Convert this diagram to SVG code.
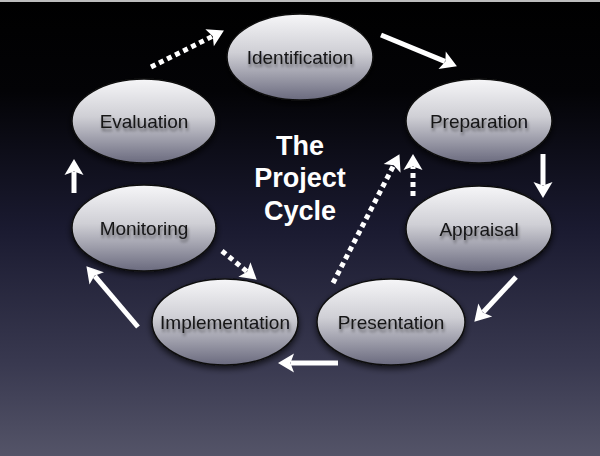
<svg xmlns="http://www.w3.org/2000/svg" width="600" height="456" viewBox="0 0 600 456">
  <defs>
    <linearGradient id="bg" x1="0" y1="0" x2="0" y2="1">
      <stop offset="0" stop-color="#000000"/>
      <stop offset="0.2" stop-color="#030306"/>
      <stop offset="0.5" stop-color="#1a1a30"/>
      <stop offset="0.8" stop-color="#393950"/>
      <stop offset="1" stop-color="#545468"/>
    </linearGradient>
    <linearGradient id="node" x1="0" y1="0" x2="0" y2="1">
      <stop offset="0" stop-color="#f6f6f8"/>
      <stop offset="0.45" stop-color="#cfcfd5"/>
      <stop offset="1" stop-color="#6a6a7e"/>
    </linearGradient>
    <filter id="sh" x="-20%" y="-20%" width="140%" height="150%">
      <feDropShadow dx="0" dy="3" stdDeviation="3" flood-color="#000" flood-opacity="0.7"/>
    </filter>
    <filter id="tsh" x="-10%" y="-30%" width="120%" height="170%">
      <feDropShadow dx="1" dy="3" stdDeviation="1.5" flood-color="#000" flood-opacity="0.45"/>
    </filter>
    <marker id="ah" markerUnits="userSpaceOnUse" markerWidth="20" markerHeight="20" refX="3" refY="10" orient="auto" overflow="visible">
      <path d="M0,0.5 L16,10 L0,19.5 L3.5,10 Z" fill="#ffffff"/>
    </marker>
    <style>
      .n ellipse { fill: url(#node); stroke: #111; stroke-width: 1.5; filter: url(#sh); }
      .n text { font-family: "Liberation Sans", Arial, sans-serif; font-size: 19px; fill: #141416; text-anchor: middle; filter: url(#tsh); }
      .a { stroke: #fff; stroke-width: 5; fill: none; marker-end: url(#ah); }
      .d { stroke-dasharray: 5 4; }
      .t { font-family: "Liberation Sans", Arial, sans-serif; font-size: 27px; font-weight: bold; fill: #fff; text-anchor: middle; }
    </style>
  </defs>
  <rect width="600" height="456" fill="url(#bg)"/>
  <rect width="600" height="2" fill="#bdbdbd"/>

  <g id="title">
    <text class="t" x="300" y="155">The</text>
    <text class="t" x="300" y="187">Project</text>
    <text class="t" x="300" y="220">Cycle</text>
  </g>

  <g id="connectors">
    <line class="a d" x1="151" y1="67" x2="212.3" y2="36.4"/>
    <line class="a" x1="381" y1="35" x2="444.9" y2="61.4"/>
    <line class="a" x1="543" y1="154" x2="543" y2="185"/>
    <line class="a" x1="516" y1="277" x2="483.2" y2="312.2"/>
    <line class="a" x1="338" y1="363" x2="291" y2="363"/>
    <line class="a" x1="138" y1="327" x2="94.8" y2="276.1"/>
    <line class="a" x1="74" y1="193" x2="74" y2="172"/>
    <line class="a d" x1="222" y1="251" x2="246.7" y2="271.4"/>
    <line class="a d" x1="333" y1="283" x2="393.5" y2="165.7"/>
    <line class="a d" x1="413" y1="196" x2="413" y2="167"/>
  </g>

  <g id="identification" class="n">
    <ellipse cx="300" cy="57" rx="73" ry="43"/>
    <text x="300" y="64">Identification</text>
  </g>
  <g id="preparation" class="n">
    <ellipse cx="479" cy="121" rx="73" ry="42"/>
    <text x="479" y="128">Preparation</text>
  </g>
  <g id="appraisal" class="n">
    <ellipse cx="479" cy="229" rx="73" ry="43"/>
    <text x="479" y="236">Appraisal</text>
  </g>
  <g id="presentation" class="n">
    <ellipse cx="391" cy="322" rx="74" ry="43"/>
    <text x="391" y="329">Presentation</text>
  </g>
  <g id="implementation" class="n">
    <ellipse cx="225" cy="322" rx="73" ry="43"/>
    <text x="225" y="329">Implementation</text>
  </g>
  <g id="monitoring" class="n">
    <ellipse cx="144" cy="228" rx="72" ry="43"/>
    <text x="144" y="235">Monitoring</text>
  </g>
  <g id="evaluation" class="n">
    <ellipse cx="144" cy="121" rx="72" ry="42"/>
    <text x="144" y="128">Evaluation</text>
  </g>
</svg>
